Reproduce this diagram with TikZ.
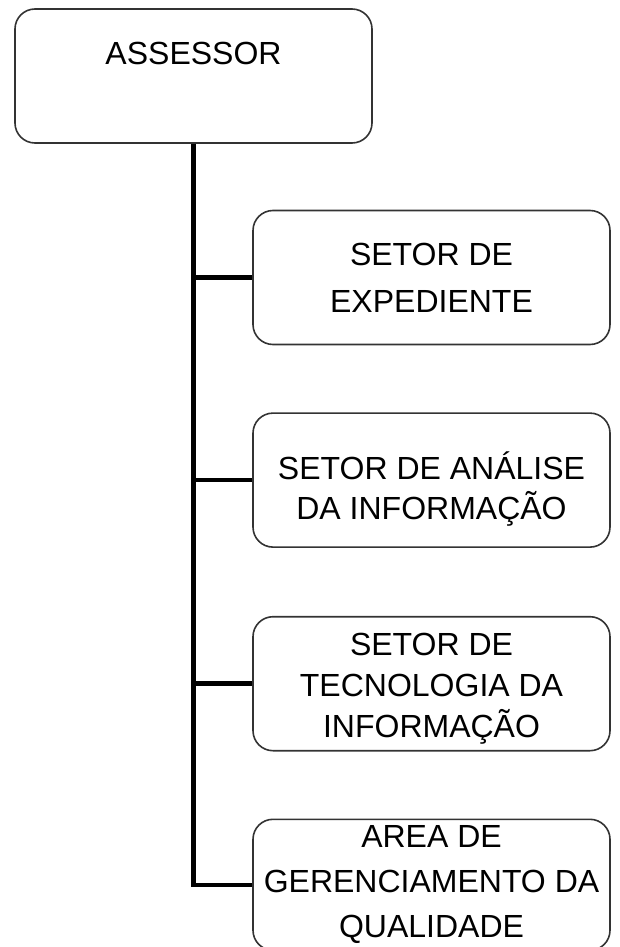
\documentclass[tikz,border=0pt]{standalone}
\usepackage{fontspec}
\setmainfont{Liberation Sans}
\usepackage{tikz}
\usetikzlibrary{positioning}

\tikzset{
  unit/.style={draw=black!80, line width=1.6pt, rounded corners=20pt,
    minimum width=357pt, minimum height=134pt, inner sep=2pt,
    align=center, font=\fontsize{32}{#1}\selectfont},
  unit/.default=42,
  link/.style={line width=4.6pt}
}

\begin{document}
\begin{tikzpicture}[x=1pt,y=1pt]
            \useasboundingbox (0,0) rectangle (619,-947);
            \node[unit, text depth=45pt] (assessor) at (193.5,-76) {ASSESSOR};
            \node[unit=47] (expediente) at (431.5,-277.5) {SETOR DE\\EXPEDIENTE};
            \node[unit=40, below=67pt of expediente] (analise) {\rule{0pt}{45pt}SETOR DE ANÁLISE\\DA INFORMAÇÃO};
            \node[unit=41, below=68pt of analise] (tecnologia) {\rule{0pt}{33pt}SETOR DE\\TECNOLOGIA DA\\INFORMAÇÃO};
            \node[unit=45, minimum height=131pt, below=67pt of tecnologia] (qualidade) {AREA DE\\GERENCIAMENTO DA\\QUALIDADE};
            \draw[link] (assessor.south) |- (qualidade.west);
            \foreach \n in {expediente,analise,tecnologia}
                \draw[link] (assessor.south) |- (\n.west);
        \end{tikzpicture}
\end{document}
